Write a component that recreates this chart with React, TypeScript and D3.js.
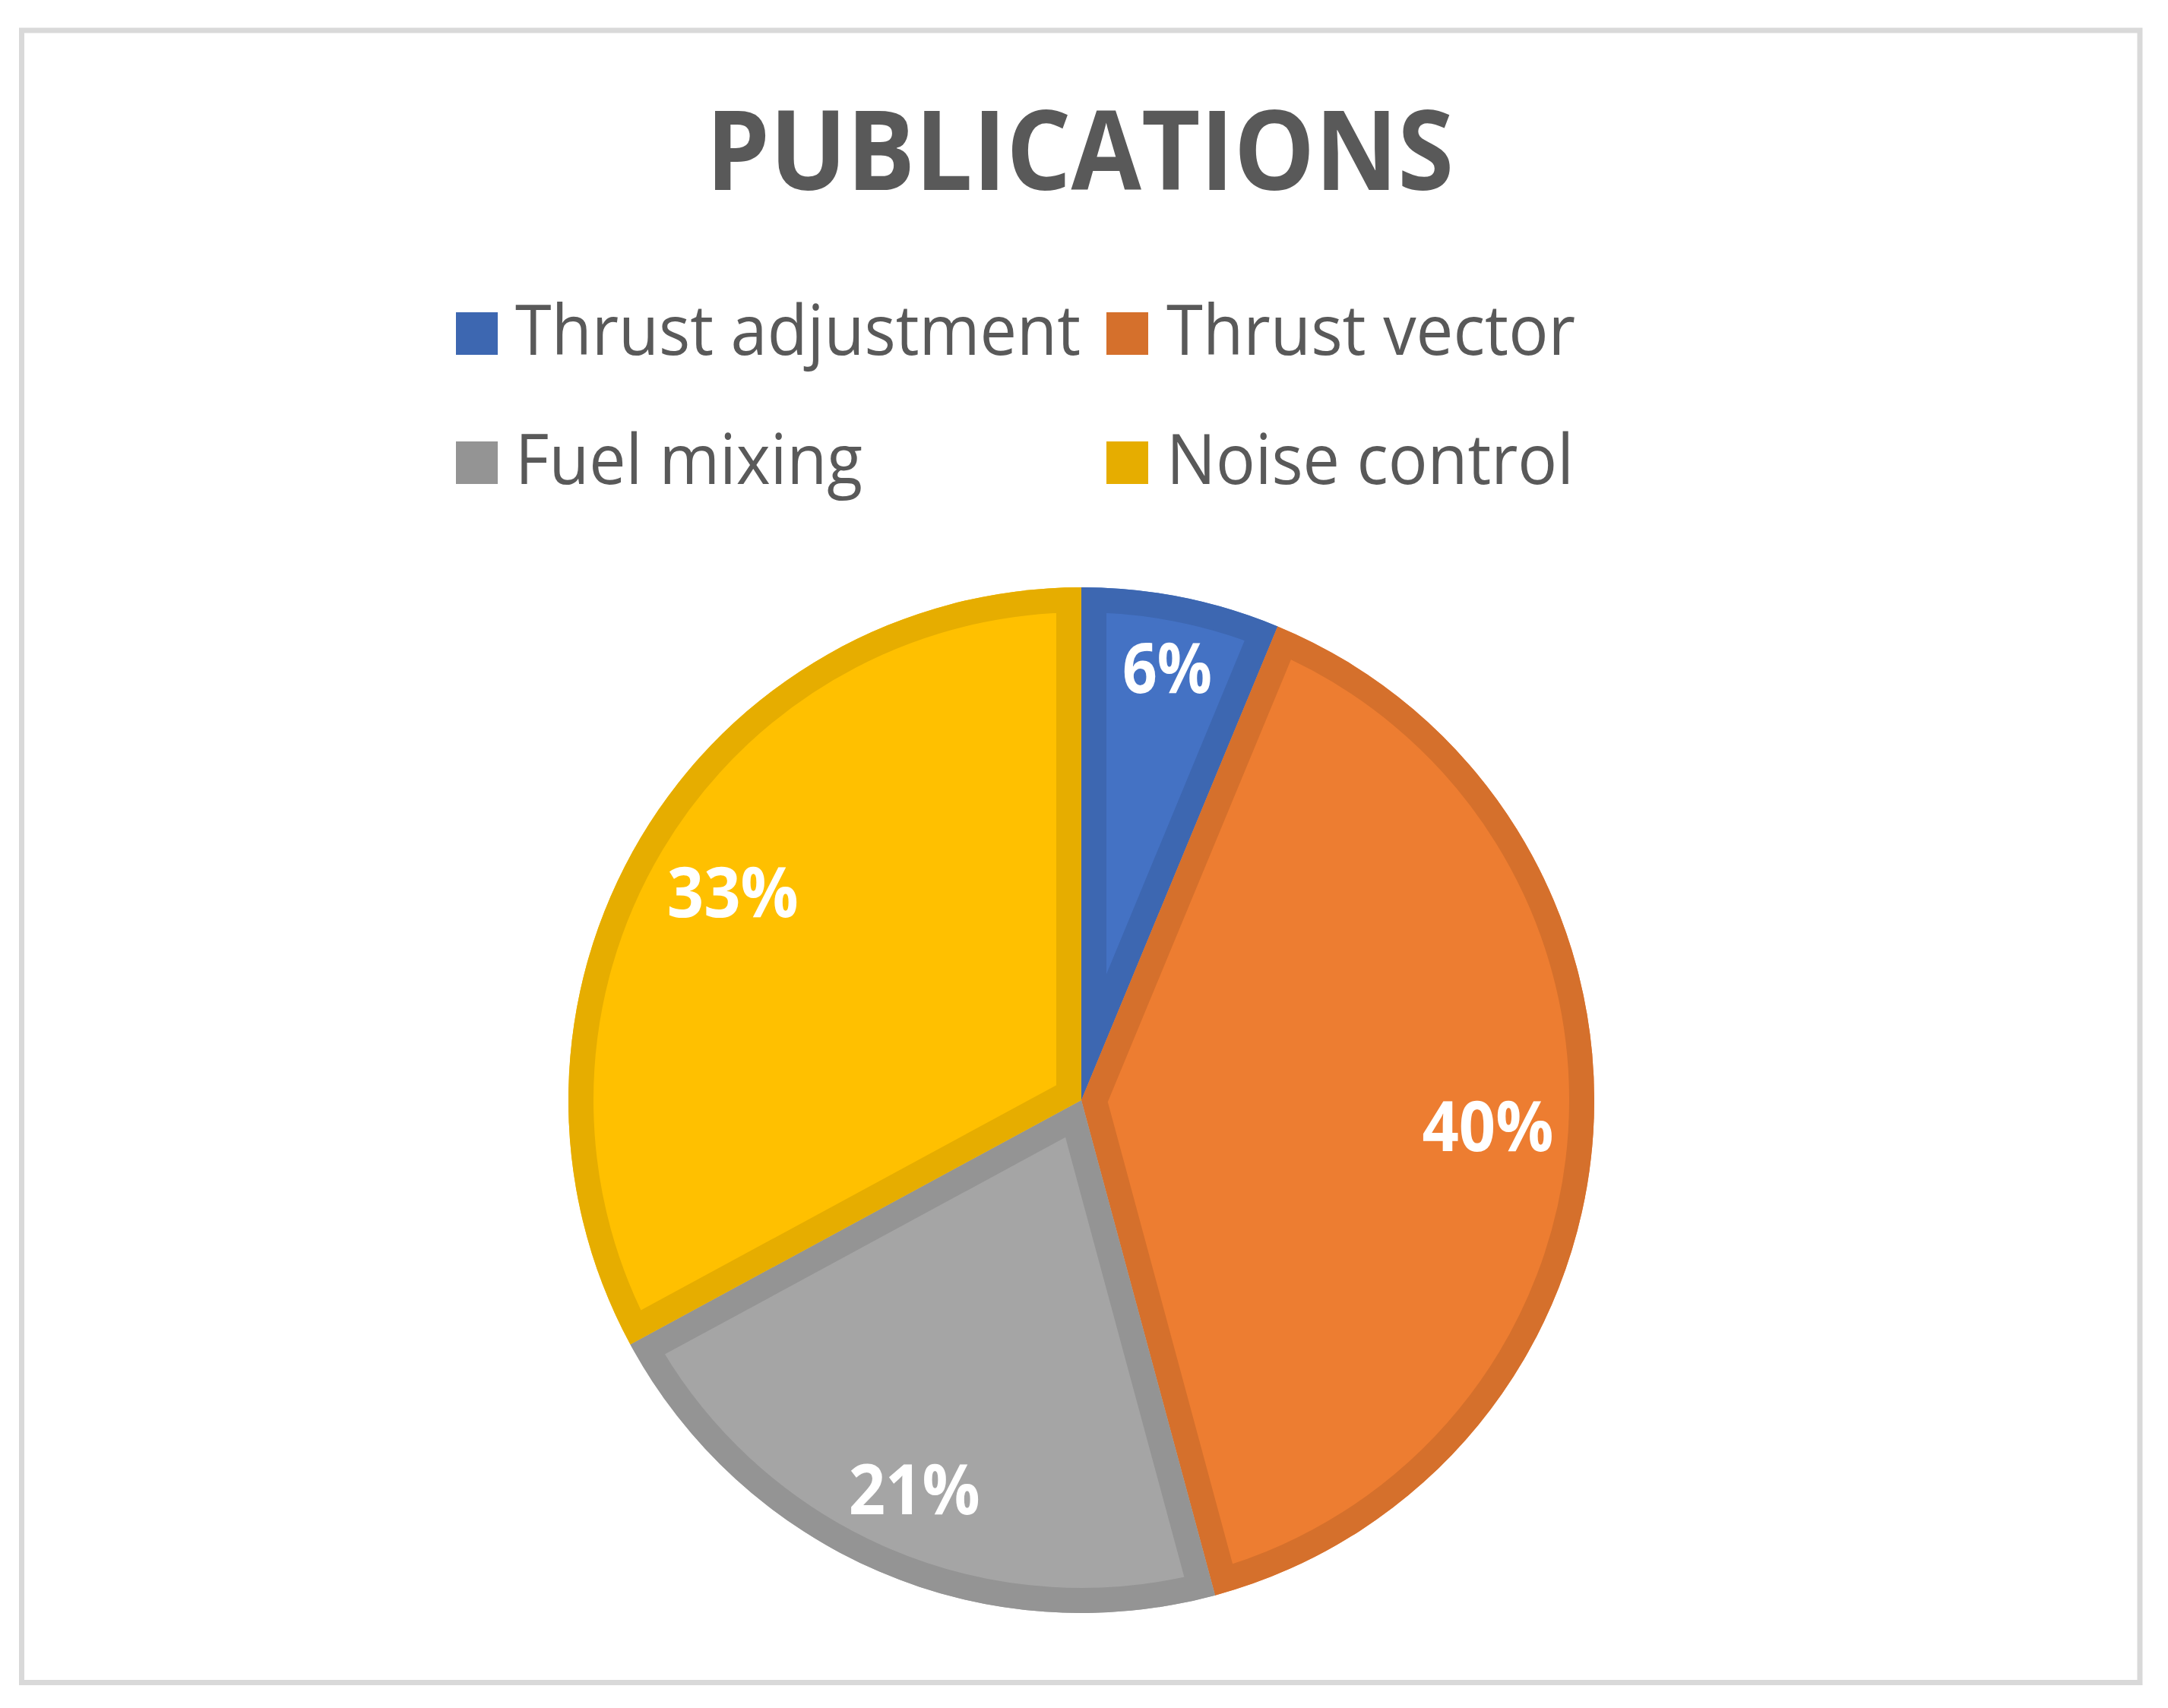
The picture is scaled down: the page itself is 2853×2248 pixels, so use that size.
import React from "react";
import * as d3 from "d3";

const categories = ["Thrust adjustment", "Thrust vector", "Fuel mixing", "Noise control"];
const values = [6.25, 39.55, 21.3, 32.9];
const fillColors = ["#4472C4", "#ED7D31", "#A5A5A5", "#FFC000"];
const edgeColors = ["#3D67B1", "#D5702C", "#949494", "#E6AD00"];
const titleText = "PUBLICATIONS";

const W = 2853;
const H = 2248;
const cx = 1423;
const cy = 1448;
const R = 675;
const edgeW = 33;
const labelFs = 91;
const labelCap = 65;
const labelMargin = 50;

export default function App() {
  const pie = d3.pie<number>().sort(null).value((d) => d)(values);
  const arc = d3.arc<d3.PieArcDatum<number>>().innerRadius(0).outerRadius(R);
  const total = d3.sum(values);

  const legendItems = [
    { i: 0, x: 600, y: 411, tx: 678, tl: 744 },
    { i: 1, x: 1456, y: 411, tx: 1535, tl: 538 },
    { i: 2, x: 600, y: 581, tx: 678, tl: 457 },
    { i: 3, x: 1456, y: 581, tx: 1535, tl: 536 },
  ];

  return (
    <svg
      width={W}
      height={H}
      style={{ position: "absolute", left: 0, top: 0, display: "block", background: "#fff" }}
    >
      <rect x={0} y={0} width={W} height={H} fill="#fff" />
      <rect x={28.5} y={40} width={2787.5} height={2174.5} fill="#fff" stroke="#D9D9D9" strokeWidth={7} />
      <text
        x={1421}
        y={250}
        textAnchor="middle"
        fontFamily="'Open Sans', sans-serif"
        fontWeight={700}
        fontSize={145}
        fill="#595959"
        textLength={984}
        lengthAdjust="spacingAndGlyphs"
      >
        {titleText}
      </text>
      {legendItems.map((l) => (
        <g key={l.i}>
          <rect x={l.x} y={l.y} width={55} height={56} fill={edgeColors[l.i]} />
          <text
            x={l.tx}
            y={l.y + 56}
            fontFamily="'Open Sans', sans-serif"
            fontSize={91}
            fill="#595959"
            textLength={l.tl}
            lengthAdjust="spacingAndGlyphs"
          >
            {categories[l.i]}
          </text>
        </g>
      ))}
      <defs>
        {pie.map((p, i) => (
          <clipPath id={`clip${i}`} key={i}>
            <path d={arc(p) || ""} transform={`translate(${cx},${cy})`} />
          </clipPath>
        ))}
      </defs>
      <g transform={`translate(${cx},${cy})`}>
        {pie.map((p, i) => (
          <path key={`f${i}`} d={arc(p) || ""} fill={fillColors[i]} />
        ))}
      </g>
      {pie.map((p, i) => (
        <g key={`s${i}`} clipPath={`url(#clip${i})`}>
          <path
            d={arc(p) || ""}
            transform={`translate(${cx},${cy})`}
            fill="none"
            stroke={edgeColors[i]}
            strokeWidth={edgeW * 2}
            strokeLinejoin="miter"
          />
        </g>
      ))}
      {pie.map((p, i) => {
        const pct = Math.round((values[i] / total) * 100) + "%";
        const digits = pct.length - 1;
        const tw = 55 * digits + 63;
        const th = labelCap;
        const a = (p.startAngle + p.endAngle) / 2;
        const ux = Math.sin(a);
        const uy = -Math.cos(a);
        let lo = 0;
        let hi = R;
        for (let k = 0; k < 40; k++) {
          const mid = (lo + hi) / 2;
          const bx = mid * ux;
          const by = mid * uy;
          let far = 0;
          for (const sx of [-1, 1]) {
            for (const sy of [-1, 1]) {
              const d = Math.hypot(bx + (sx * tw) / 2, by + (sy * th) / 2);
              if (d > far) far = d;
            }
          }
          if (far > R - labelMargin) hi = mid;
          else lo = mid;
        }
        const lx = cx + lo * ux;
        const ly = cy + lo * uy;
        return (
          <text
            key={`l${i}`}
            x={lx}
            y={ly + th / 2}
            textAnchor="middle"
            fontFamily="'Open Sans', sans-serif"
            fontWeight={700}
            fontSize={labelFs}
            fill="#FFFFFF"
            textLength={tw}
            lengthAdjust="spacingAndGlyphs"
          >
            {pct}
          </text>
        );
      })}
    </svg>
  );
}
